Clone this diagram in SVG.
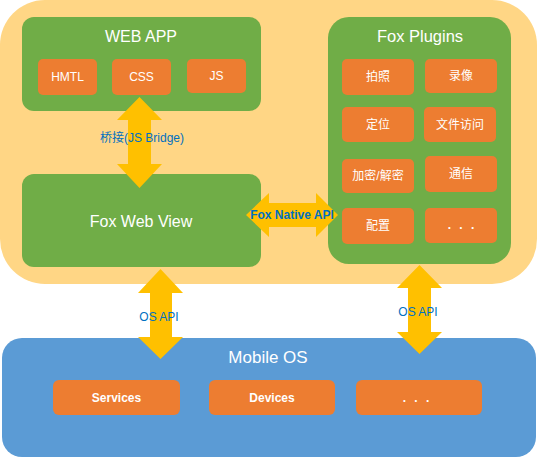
<svg xmlns="http://www.w3.org/2000/svg" width="538" height="460" viewBox="0 0 538 460">
  <style>
    .bg { fill: #FFD685; }
    .grp { fill: #70AD47; }
    .os { fill: #5B9BD5; }
    .item { fill: #ED7D31; }
    .arrow { fill: #FFC000; }
    .title { font-family: "Liberation Sans", Arial, sans-serif; font-size: 16px; fill: #FFFFFF; text-anchor: middle; dominant-baseline: central; }
    .lbl { font-family: "Liberation Sans", Arial, "Noto Sans CJK SC", sans-serif; font-size: 12px; fill: #FFFFFF; text-anchor: middle; dominant-baseline: central; }
    .b { font-weight: bold; }
    .api { font-family: "Liberation Sans", Arial, "Noto Sans CJK SC", sans-serif; font-size: 12px; fill: #0070C0; text-anchor: middle; dominant-baseline: central; }
    .dots { word-spacing: 5px; }
  </style>

  <g id="container">
    <rect class="bg" x="0" y="0" width="537" height="284" rx="45" ry="45"/>
  </g>

  <g id="web-app">
    <rect class="grp" x="22" y="17" width="239" height="94" rx="12" ry="12"/>
    <text class="title" x="141" y="36">WEB APP</text>
    <g id="html">
      <rect class="item" x="38" y="59" width="59" height="36" rx="5"/>
      <text class="lbl" x="67.5" y="77">HMTL</text>
    </g>
    <g id="css">
      <rect class="item" x="112" y="59" width="59" height="36" rx="5"/>
      <text class="lbl" x="141.5" y="77">CSS</text>
    </g>
    <g id="js">
      <rect class="item" x="187" y="59" width="59" height="34" rx="5"/>
      <text class="lbl" x="216.5" y="76">JS</text>
    </g>
  </g>

  <g id="fox-web-view">
    <rect class="grp" x="22" y="174" width="239" height="93" rx="12" ry="12"/>
    <text class="title" x="141" y="221">Fox Web View</text>
  </g>

  <g id="fox-plugins">
    <rect class="grp" x="328" y="17" width="183" height="247" rx="21" ry="21"/>
    <text class="title" x="420" y="36" style="font-size:16.5px">Fox Plugins</text>
    <g id="p-photo">
      <rect class="item" x="342" y="59" width="72" height="36" rx="5"/>
      <text class="lbl" x="378" y="77">拍照</text>
    </g>
    <g id="p-video">
      <rect class="item" x="425" y="59" width="72" height="34" rx="5"/>
      <text class="lbl" x="461" y="76">录像</text>
    </g>
    <g id="p-location">
      <rect class="item" x="342" y="107" width="72" height="35" rx="5"/>
      <text class="lbl" x="378" y="124.5">定位</text>
    </g>
    <g id="p-file">
      <rect class="item" x="424" y="107" width="72" height="35" rx="5"/>
      <text class="lbl" x="460" y="124.5">文件访问</text>
    </g>
    <g id="p-crypto">
      <rect class="item" x="342" y="159" width="72" height="34" rx="5"/>
      <text class="lbl" x="378" y="176">加密/解密</text>
    </g>
    <g id="p-comm">
      <rect class="item" x="425" y="156" width="72" height="36" rx="5"/>
      <text class="lbl" x="461" y="174">通信</text>
    </g>
    <g id="p-config">
      <rect class="item" x="342" y="208" width="72" height="36" rx="5"/>
      <text class="lbl" x="378" y="226">配置</text>
    </g>
    <g id="p-more">
      <rect class="item" x="425" y="208" width="72" height="35" rx="5"/>
      <text class="lbl b dots" x="461" y="225">. . .</text>
    </g>
  </g>

  <g id="mobile-os">
    <rect class="os" x="2" y="338" width="534" height="119" rx="20" ry="20"/>
    <text class="title" x="268" y="357" style="font-size:17px">Mobile OS</text>
    <g id="services">
      <rect class="item" x="53" y="380" width="127" height="35" rx="6"/>
      <text class="lbl b" x="116.5" y="398">Services</text>
    </g>
    <g id="devices">
      <rect class="item" x="209" y="380" width="126" height="35" rx="6"/>
      <text class="lbl b" x="272" y="398">Devices</text>
    </g>
    <g id="os-more">
      <rect class="item" x="356" y="380" width="126" height="35" rx="6"/>
      <text class="lbl b dots" x="416" y="398">. . .</text>
    </g>
  </g>

  <g id="connectors">
    <polygon class="arrow" points="139.5,97 162,120 151,120 151,164 162,164 139.5,188 117,164 128,164 128,120 117,120"/>
    <text class="api" x="142" y="138">桥接(JS Bridge)</text>

    <polygon class="arrow" points="246,215 269,193 269,203 316,203 316,193 338,215 316,237 316,227 269,227 269,237"/>
    <text class="api b" x="292" y="215">Fox Native API</text>

    <polygon class="arrow" points="160.5,269 183,293 172,293 172,337 183,337 160.5,359 138,337 150,337 150,293 138,293"/>
    <text class="api" x="159" y="317">OS API</text>

    <polygon class="arrow" points="419.5,265 442,288 431,288 431,332 442,332 419.5,354 397,332 408,332 408,288 397,288"/>
    <text class="api" x="418" y="312">OS API</text>
  </g>
</svg>
